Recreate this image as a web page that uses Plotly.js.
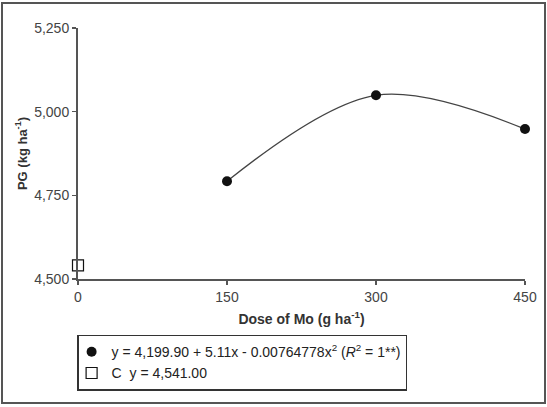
<!DOCTYPE html>
<html>
<head>
<meta charset="utf-8">
<script src="https://cdn.plot.ly/plotly-3.0.1.min.js"></script>
<style>
  html, body { margin: 0; padding: 0; background: #fff; }
  #wrap { position: relative; width: 547px; height: 407px; }
  #chart { position: absolute; left: 0; top: 0; width: 547px; height: 407px; }
  #frame { position: absolute; left: 1px; top: 2px; width: 541px; height: 398px;
           border: 2px solid #555; pointer-events: none; }
</style>
</head>
<body>
<div id="wrap"><div id="chart"></div><div id="frame"></div></div>
<script>
// Data
const doses = [150, 300, 450];
const pg = [4792, 5049, 4948];
const controlDose = [0];
const controlPG = [4541];
const xTicks = [0, 150, 300, 450];
const yTicks = [4500, 4750, 5000, 5250];
const fitLabel = 'y = 4,199.90 + 5.11x - 0.00764778x<sup>2</sup> (<i>R</i><sup>2</sup> = 1**)';
const controlLabel = 'C\u00a0 y = 4,541.00';

const fam = '"Liberation Sans", Arial, sans-serif';

const traces = [
  {
    x: doses, y: pg, type: 'scatter', mode: 'lines',
    line: { shape: 'spline', color: '#444', width: 1.3 },
    showlegend: false, hoverinfo: 'skip'
  },
  {
    x: doses, y: pg, type: 'scatter', mode: 'markers', name: fitLabel,
    marker: { symbol: 'circle', size: 10, color: '#111' },
    cliponaxis: false
  },
  {
    x: controlDose, y: controlPG, type: 'scatter', mode: 'markers', name: controlLabel,
    marker: { symbol: 'square-open', size: 11, color: '#111', line: { width: 1.2 } },
    cliponaxis: false
  }
];

const axisCommon = {
  showgrid: false, zeroline: false, showline: true,
  linecolor: '#555', linewidth: 2,
  ticks: 'outside', ticklen: 4, tickwidth: 1.5, tickcolor: '#555',
  tickfont: { family: fam, size: 14, color: '#444' }
};

const layout = {
  width: 547, height: 407,
  margin: { l: 78, r: 22, t: 28, b: 128 },
  paper_bgcolor: '#fff', plot_bgcolor: '#fff',
  xaxis: Object.assign({}, axisCommon, {
    range: [0, 450], tickmode: 'array', tickvals: xTicks,
    title: { text: 'Dose of Mo (g ha<sup>-1</sup>)', standoff: 10,
             font: { family: fam, size: 14, color: '#333', weight: 'bold' } }
  }),
  yaxis: Object.assign({}, axisCommon, {
    range: [4500, 5250], tickmode: 'array', tickvals: yTicks, tickformat: ',d',
    title: { text: 'PG (kg ha<sup>-1</sup>)', standoff: 4,
             font: { family: fam, size: 13, color: '#333', weight: 'bold' } }
  }),
  showlegend: true,
  legend: {
    x: -0.002, y: -0.222, xanchor: 'left', yanchor: 'top',
    bordercolor: '#333', borderwidth: 1.5, bgcolor: '#fff',
    font: { family: fam, size: 14, color: '#222' },
    itemwidth: 30, tracegroupgap: 0, indentation: -7
  }
};

Plotly.newPlot('chart', traces, layout, { displayModeBar: false, staticPlot: true });
</script>
</body>
</html>
